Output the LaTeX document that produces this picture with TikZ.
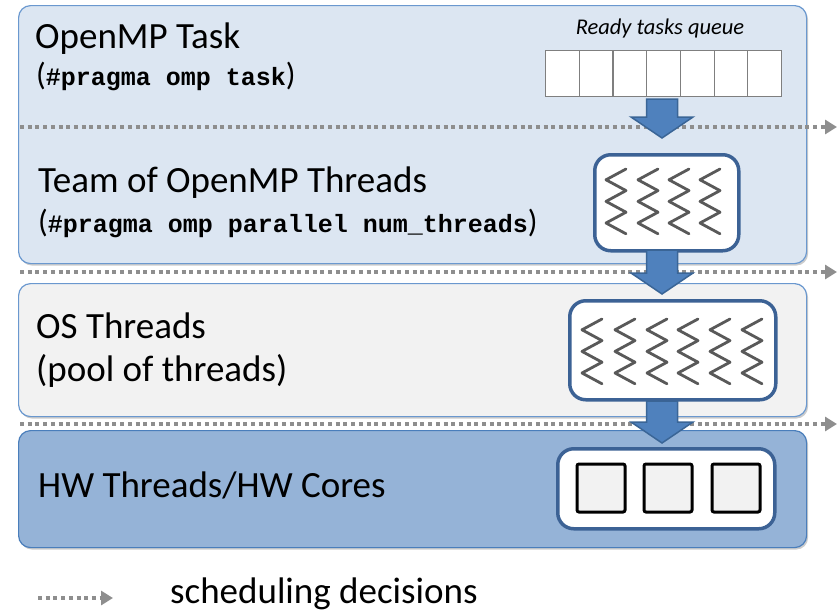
\documentclass[tikz,border=0pt]{standalone}
\usepackage{fontspec}
\setmainfont{Carlito}
\newfontfamily\codefont{Liberation Mono}
\usetikzlibrary{arrows.meta,shadows}

\definecolor{taskfill}{HTML}{DCE6F2}
\definecolor{osfill}{HTML}{F2F2F2}
\definecolor{hwfill}{HTML}{95B3D7}
\definecolor{lightedge}{HTML}{6A98CF}
\definecolor{hwedge}{HTML}{4A7EBB}
\definecolor{unitedge}{HTML}{3C6295}
\definecolor{arrowfill}{HTML}{4F81BD}
\definecolor{arrowedge}{HTML}{3A6596}
\definecolor{schedgray}{HTML}{8E8E8E}
\definecolor{threadgray}{HTML}{595959}
\definecolor{cellgray}{HTML}{7F7F7F}

\newcommand\pragmatext[1]{{\codefont\bfseries\fontsize{25}{30}\selectfont #1}}

\tikzset{
  layerbox/.style={rounded corners=12pt, line width=1.2pt, minimum width=788pt,
    anchor=north west, inner sep=0pt,
    drop shadow={shadow xshift=1.5pt, shadow yshift=-2pt, opacity=0.2, fill=black}},
  unitbox/.style={draw=unitedge, fill=white, line width=3.5pt, rounded corners=16pt,
    anchor=north west, inner sep=0pt},
  qcell/.style={draw=cellgray, fill=white, line width=1.2pt, anchor=north west,
    minimum width=33.71pt, minimum height=46pt, inner sep=0pt},
  corebox/.style={draw=black, fill=osfill, line width=3pt, rounded corners=2pt,
    minimum size=48pt, inner sep=0pt},
  bigtext/.style={anchor=base west, inner sep=0pt, font=\fontsize{37}{44}\selectfont},
  subtext/.style={anchor=base west, inner sep=0pt, font=\fontsize{32}{38}\selectfont},
  schedline/.style={draw=schedgray, line width=4pt, dash pattern=on 4pt off 3.7pt,
    -{Triangle[length=12pt,width=14pt,fill=schedgray]}},
  blockarrow/.style={fill=arrowfill, draw=arrowedge, line width=1.5pt, line join=miter},
  zzline/.style={draw=threadgray, line width=2.8pt, line cap=round, line join=round},
  zigzag/.pic={\draw[zzline] (20,0) -- (0,10.8) -- (20,21.6) -- (0,32.4)
    -- (20,43.2) -- (0,54) -- (20,64.8);}
}

% block arrow from a shaft top (#1) down to a tip (#2)
\newcommand\blockdown[2]{%
  \draw[blockarrow] ([xshift=-15.5pt]#1) -- ([xshift=15.5pt]#1)
    -- ([xshift=15.5pt,yshift=21pt]#2) -- ([xshift=31pt,yshift=21pt]#2)
    -- (#2) -- ([xshift=-31pt,yshift=21pt]#2)
    -- ([xshift=-15.5pt,yshift=21pt]#2) -- cycle;}

\begin{document}
\begin{tikzpicture}[x=1pt,y=-1pt]
\useasboundingbox (0,0) rectangle (840,614);

% the three layers
\node[layerbox, draw=lightedge, fill=taskfill, minimum height=258pt] (tasklayer) at (18,5) {};
\node[layerbox, draw=lightedge, fill=osfill, minimum height=133pt] (oslayer) at (18,283) {};
\node[layerbox, draw=hwedge, fill=hwfill, minimum height=117pt] (hwlayer) at (18,430) {};

% scheduling decision lines
\coordinate (s1a) at (20,127);  \coordinate (s1b) at (837,127);
\coordinate (s2a) at (20,272);  \coordinate (s2b) at (837,272);
\coordinate (s3a) at (20,424);  \coordinate (s3b) at (837,424);
\draw[schedline] (s1a) -- (s1b);
\draw[schedline] (s2a) -- (s2b);
\draw[schedline] (s3a) -- (s3b);

% labels of the layers
\node[bigtext] (tasktitle) at (35,48) {OpenMP Task};
\node[subtext] (taskpragma) at (36,85) {(\pragmatext{\#pragma omp task})};
\node[bigtext] (teamtitle) at (38,192) {Team of OpenMP Threads};
\node[subtext] (teampragma) at (38,232) {(\pragmatext{\#pragma omp parallel num\_threads})};
\node[bigtext] (ostitle) at (36,338) {OS Threads};
\node[bigtext] (ospool) at (36,381) {(pool of threads)};
\node[bigtext] (hwtitle) at (38,497) {HW Threads/HW Cores};

% ready tasks queue
\node[anchor=base, inner sep=0pt, font=\itshape\fontsize{22.5}{27}\selectfont] (qlabel) at (660,34) {Ready tasks queue};
\foreach \i in {0,...,6}
  \node[qcell] (q\i) at (545+\i*33.71,50) {};

% team of threads
\node[unitbox, minimum width=144pt, minimum height=96pt] (team) at (593,153) {};
\foreach \x in {606,638,669,700}
  \pic at (\x,169) {zigzag};

% OS threads
\node[unitbox, minimum width=206pt, minimum height=99pt] (ospool box) at (568,299) {};
\foreach \x in {582,615,647,678,710,742}
  \pic at (\x,319) {zigzag};

% hardware cores
\node[unitbox, minimum width=217pt, minimum height=80pt] (cores) at (556,447) {};
\node[corebox] (core1) at (601,488) {};
\node[corebox] (core2) at (668,488) {};
\node[corebox] (core3) at (736,488) {};

% block arrows between the levels
\coordinate (a1s) at (662,99);  \coordinate (a1e) at (662,138);
\coordinate (a2s) at (662,250); \coordinate (a2e) at (662,294);
\coordinate (a3s) at (662,401); \coordinate (a3e) at (662,443);
\blockdown{a1s}{a1e}
\blockdown{a2s}{a2e}
\blockdown{a3s}{a3e}

% legend
\coordinate (la) at (38,598); \coordinate (lb) at (113,598);
\draw[schedline] (la) -- (lb);
\node[bigtext] (legendtext) at (170,603) {scheduling decisions};
\end{tikzpicture}
\end{document}
